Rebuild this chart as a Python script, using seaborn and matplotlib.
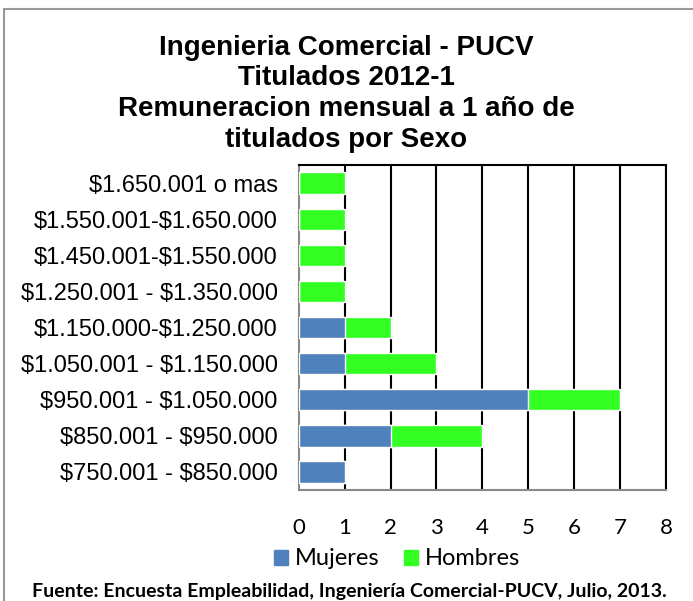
import pandas as pd
import matplotlib.pyplot as plt
import seaborn as sns
from matplotlib.patches import Patch, Rectangle

# Data (top to bottom as shown)
rangos = ['$1.650.001 o mas', '$1.550.001-$1.650.000', '$1.450.001-$1.550.000',
          '$1.250.001 - $1.350.000', '$1.150.000-$1.250.000', '$1.050.001 - $1.150.000',
          '$950.001 - $1.050.000', '$850.001 - $950.000', '$750.001 - $850.000']
mujeres = [0, 0, 0, 0, 1, 1, 5, 2, 1]
hombres = [1, 1, 1, 1, 1, 2, 2, 2, 0]
x_ticks = [0, 1, 2, 3, 4, 5, 6, 7, 8]

azul = '#4f81bd'
verde = '#33ff22'

df = pd.DataFrame({'rango': rangos, 'Mujeres': mujeres, 'Hombres': hombres})
df['total'] = df['Mujeres'] + df['Hombres']

sns.set_style('white')
plt.rcParams['text.parse_math'] = False
plt.rcParams['text.color'] = 'black'
plt.rcParams['xtick.color'] = 'black'
plt.rcParams['ytick.color'] = 'black'
fig = plt.figure(figsize=(6.93, 6.01), dpi=100)
ax = fig.add_axes([0.431, 0.185, 0.530, 0.540])

# stacked: totals in green, then mujeres in blue on top
sns.barplot(data=df, x='total', y='rango', color=verde, width=0.6,
            saturation=1, ax=ax, zorder=3)
sns.barplot(data=df, x='Mujeres', y='rango', color=azul, width=0.6,
            saturation=1, ax=ax, zorder=4)

ax.set_xlim(0, 8)
ax.set_xticks(x_ticks)
ax.set_xticklabels([str(t) for t in x_ticks], fontsize=16, family='Lato')
ax.tick_params(axis='x', length=0, pad=20, labelcolor='black')
ax.tick_params(axis='y', length=0, pad=15, labelcolor='black')
for lbl in ax.get_yticklabels():
    lbl.set_fontsize(17)
    lbl.set_family('Liberation Sans')
ax.set_xlabel('')
ax.set_ylabel('')
for t in x_ticks[1:]:
    ax.axvline(t, color='black', lw=1.5, zorder=1)
for s in ['top', 'right']:
    ax.spines[s].set_color('black')
    ax.spines[s].set_linewidth(1.5)
for s in ['left', 'bottom']:
    ax.spines[s].set_color('#888888')
    ax.spines[s].set_linewidth(1.5)

fig.text(0.5, 0.942, 'Ingenieria Comercial - PUCV\nTitulados 2012-1\nRemuneracion mensual a 1 año de\ntitulados por Sexo',
         ha='center', va='top', fontsize=20, fontweight='bold', color='black',
         family='Liberation Sans', linespacing=1.23)

handles = [Patch(color=azul, label='Mujeres'), Patch(color=verde, label='Hombres')]
fig.legend(handles=handles, loc='center', bbox_to_anchor=(0.573, 0.070), ncol=2,
           frameon=False, prop={'family': 'Lato', 'size': 17}, labelcolor='black',
           handlelength=0.6, handleheight=0.6, handletextpad=0.3, columnspacing=1.0,
           borderpad=0)

fig.text(0.504, 0.015, 'Fuente: Encuesta Empleabilidad, Ingeniería Comercial-PUCV, Julio, 2013.',
         ha='center', va='center', fontsize=14, fontweight='bold', family='Lato',
         color='black')

fig.patches.append(Rectangle((0.006, -0.01), 1.1, 0.995, transform=fig.transFigure,
                             fill=False, edgecolor='#999999', lw=1.5))

fig.savefig('out.png', dpi=100)
